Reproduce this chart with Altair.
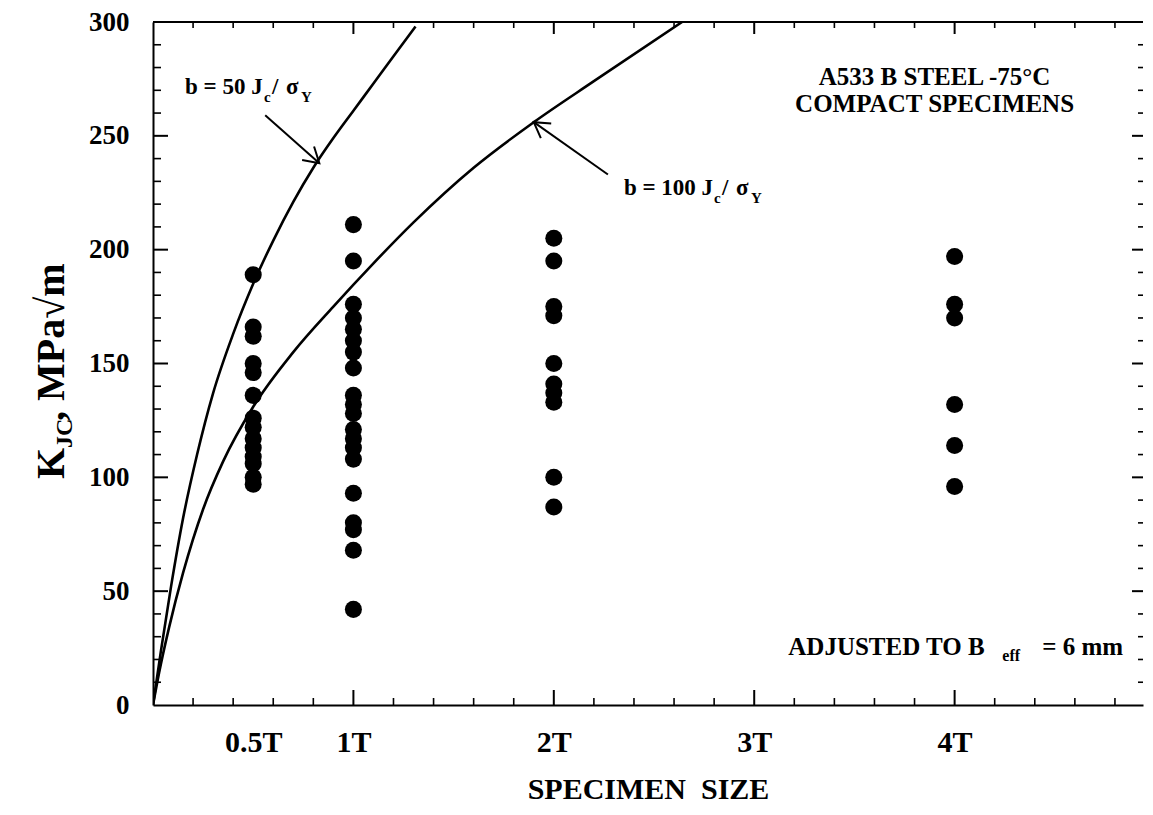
import math
import altair as alt
import pandas as pd

FONT = "Liberation Serif"

# ---------------- data ----------------
size_05 = 0.5
size_1 = 1.0
size_2 = 2.0
size_4 = 4.0
k_05 = [189, 166, 162, 150, 146, 136, 126, 122, 117, 113, 109, 106, 100, 97]
k_1 = [211, 195, 176, 170, 165, 160, 155, 148, 136, 132, 128, 121, 117, 113, 108, 93, 80, 77, 68, 42]
k_2 = [205, 195, 175, 171, 150, 141, 137, 133, 100, 87]
k_4 = [197, 176, 170, 132, 114, 96]

# limit curves (specimen size in T, K_Jc)
b50_T = [0, 0.04, 0.09, 0.15, 0.22, 0.3, 0.4, 0.5, 0.6, 0.7, 0.8, 0.9, 1.0, 1.1, 1.2, 1.31]
b50_K = [0, 24, 52, 82, 110, 137, 163, 185, 204, 221, 236, 249, 261, 273, 285, 298]
b100_T = [0, 0.03, 0.08, 0.15, 0.25, 0.35, 0.5, 0.7, 0.9, 1.1, 1.3, 1.6, 1.9, 2.2, 2.64]
b100_K = [0, 14, 34, 58, 86, 107, 131, 155, 175, 194, 212, 236, 256, 274, 300]

# axes
x_labels = [0.5, 1, 2, 3, 4]
y_labels = [0, 50, 100, 150, 200, 250, 300]
x_minor = [0.2, 0.4, 0.6, 0.8, 1.2, 1.4, 1.6, 1.8, 2.2, 2.4, 2.6, 2.8,
           3.2, 3.4, 3.6, 3.8, 4.2, 4.4, 4.6, 4.8]
x_major = [1, 2, 3, 4]
y_minor = [10, 20, 30, 40, 60, 70, 80, 90, 110, 120, 130, 140, 160, 170, 180, 190,
           210, 220, 230, 240, 260, 270, 280, 290]
y_major = [50, 100, 150, 200, 250]

# annotation arrows: tail (T, K) -> tip (T, K)
arrow50 = [0.56, 259, 0.83, 238]
arrow100 = [2.27, 233, 1.9, 256]

# ---------------- layout ----------------
W, H = 990, 683
X_MAX = 4.94
xs = alt.Scale(domain=[0, X_MAX], nice=False, zero=False)
ys = alt.Scale(domain=[0, 300], nice=False, zero=False)
PX_T = W / X_MAX
PX_K = H / 300.0

X_AXIS = alt.Axis(
    values=x_labels, labelExpr="datum.value + 'T'", title="SPECIMEN\u00a0 SIZE",
    tickSize=0, grid=False, domain=True, domainColor="black", domainWidth=2,
    labelFont=FONT, labelFontSize=30, labelFontWeight="bold", labelColor="black",
    labelPadding=22, labelFlush=False,
    titleFont=FONT, titleFontSize=30, titleFontWeight="bold", titleColor="black",
    titlePadding=17)
Y_AXIS = alt.Axis(
    values=y_labels, title=None, tickSize=0, grid=False, domain=True,
    domainColor="black", domainWidth=2,
    labelFont=FONT, labelFontSize=27, labelFontWeight="bold", labelColor="black",
    labelPadding=24)


def X(field):
    return alt.X(field, scale=xs, axis=X_AXIS)


def Y(field):
    return alt.Y(field, scale=ys, axis=Y_AXIS)


rows = []
for s, ks in [(size_05, k_05), (size_1, k_1), (size_2, k_2), (size_4, k_4)]:
    for k in ks:
        rows.append({"T": s, "K": k})
dots_df = pd.DataFrame(rows)

dots = alt.Chart(dots_df).mark_circle(size=290, color="black", opacity=1).encode(
    x=X("T:Q"), y=Y("K:Q"))


def curve(ts, ks):
    return alt.Chart(pd.DataFrame({"T": ts, "K": ks})).mark_line(
        color="black", strokeWidth=2.6, interpolate="monotone", clip=True
    ).encode(x=X("T:Q"), y=Y("K:Q"), order="T:Q")


def yticks(vals, x0, x1, width=1.6):
    return alt.Chart(pd.DataFrame({"K": vals})).mark_rule(color="black", strokeWidth=width).encode(
        y=Y("K:Q"), x=alt.value(x0), x2=alt.value(x1))


def xticks(vals, y0, y1, width=1.6):
    return alt.Chart(pd.DataFrame({"T": vals})).mark_rule(color="black", strokeWidth=width).encode(
        x=X("T:Q"), y=alt.value(y0), y2=alt.value(y1))


top_line = alt.Chart(pd.DataFrame({"a": [0]})).mark_rule(color="black", strokeWidth=2).encode(
    x=alt.value(0), x2=alt.value(W), y=alt.value(0))


def txt(T, K, text, size, dx=0, dy=0, align="left", baseline="alphabetic"):
    return alt.Chart(pd.DataFrame({"T": [T], "K": [K]})).mark_text(
        text=text, font=FONT, fontSize=size, fontWeight="bold", color="black",
        align=align, baseline=baseline, dx=dx, dy=dy
    ).encode(x=X("T:Q"), y=Y("K:Q"))


def arrow(a):
    t0, k0, t1, k1 = a
    line = alt.Chart(pd.DataFrame({"T": [t0], "K": [k0], "T2": [t1], "K2": [k1]})).mark_rule(
        color="black", strokeWidth=2).encode(
        x=X("T:Q"), y=Y("K:Q"), x2="T2:Q", y2="K2:Q")
    ang = math.degrees(math.atan2(-(k1 - k0) * PX_K, (t1 - t0) * PX_T)) % 360
    head = alt.Chart(pd.DataFrame({"T": [t1], "K": [k1]})).mark_point(
        shape="M -1 -0.6 L 0 0 L -1 0.6", size=900, filled=False, color="black",
        strokeWidth=2, angle=ang, opacity=1
    ).encode(x=X("T:Q"), y=Y("K:Q"))
    return line + head


def ytitle(text, size, dx=0, dy=0):
    return alt.Chart(pd.DataFrame({"a": [0]})).mark_text(
        text=text, font=FONT, fontSize=size, fontWeight="bold", color="black",
        align="left", baseline="alphabetic", angle=270, dx=dx, dy=dy
    ).encode(x=alt.value(-89), y=alt.value(457))


layers = [
    dots,
    curve(b50_T, b50_K), curve(b100_T, b100_K),
    top_line,
    yticks(y_minor, 0, 8), yticks(y_major, 0, 15, 2),
    yticks(y_minor, W, W - 5), yticks(y_major, W, W - 11, 2),
    xticks(x_minor, H, H - 7), xticks(x_major, H, H - 15, 2),
    xticks(x_minor, 0, 6), xticks(x_major, 0, 12, 2),
    arrow(arrow50), arrow(arrow100),
    # b = 50 Jc / sigma_Y
    txt(0.16, 268.5, "b = 50 J", 23),
    txt(0.16, 268.5, "c", 15, dx=79, dy=8),
    txt(0.16, 268.5, "/", 23, dx=87),
    txt(0.16, 268.5, "\u03c3", 23, dx=101),
    txt(0.16, 268.5, "Y", 15, dx=116, dy=8),
    # b = 100 Jc / sigma_Y
    txt(2.35, 224, "b = 100 J", 23),
    txt(2.35, 224, "c", 15, dx=90, dy=8),
    txt(2.35, 224, "/", 23, dx=98),
    txt(2.35, 224, "\u03c3", 23, dx=112),
    txt(2.35, 224, "Y", 15, dx=127, dy=8),
    # material
    txt(3.9, 276, "A533 B STEEL -75\u00b0C", 25, align="center", baseline="middle"),
    txt(3.9, 264, "COMPACT SPECIMENS", 25, align="center", baseline="middle"),
    # adjustment
    txt(3.17, 25.5, "ADJUSTED TO B", 25, baseline="middle"),
    txt(3.17, 25.5, "eff", 16, dx=214, dy=9, baseline="middle"),
    txt(3.17, 25.5, "= 6 mm", 25, dx=254, baseline="middle"),
    # y title  K_JC, MPa sqrt(m)
    ytitle("K", 40),
    ytitle("JC", 24, dx=31, dy=8),
    ytitle(", MPa\u221am", 40, dx=58),
]

chart = alt.layer(*layers).properties(
    width=W, height=H,
    padding={"left": 145, "top": 14, "right": 2, "bottom": 102},
    autosize=alt.AutoSizeParams(type="none"),
    background="white",
).configure_view(stroke=None)

chart.save("out.html", embed_options={"renderer": "svg", "actions": False})
